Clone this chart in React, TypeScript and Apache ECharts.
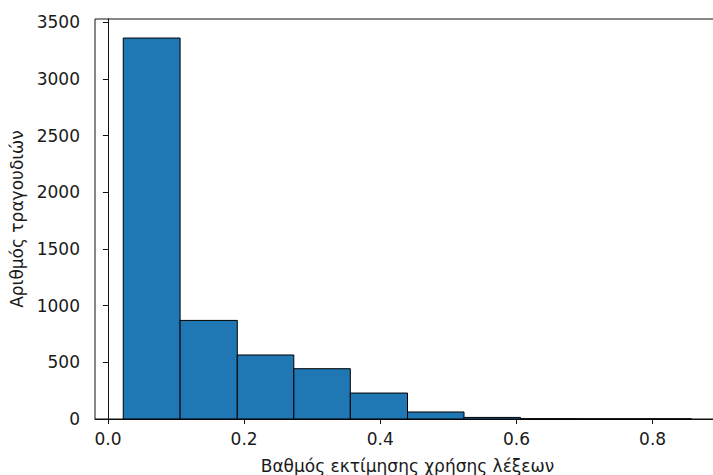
import React, { useEffect, useRef } from "react";
import * as echarts from "echarts";

// Histogram bin edges (score) and song counts per bin
const binEdges = [0.0225, 0.106, 0.19, 0.273, 0.356, 0.44, 0.523, 0.606, 0.69, 0.773, 0.857];
const binCounts = [3362, 870, 565, 444, 229, 62, 14, 2, 1, 1];

const xTicks = [0, 0.2, 0.4, 0.6, 0.8];
const yTicks = [0, 500, 1000, 1500, 2000, 2500, 3000, 3500];

const xTitle = "Βαθμός εκτίμησης χρήσης λέξεων";
const yTitle = "Αριθμός τραγουδιών";

const FONT = "DejaVu Sans";
const TEXT = "#1a1a1a";
const FS = 17;

export default function App() {
  const ref = useRef<HTMLDivElement>(null);

  useEffect(() => {
    if (!ref.current) return;
    const chart = echarts.init(ref.current, null, { renderer: "svg" });

    const data = binCounts.map((c, i) => [binEdges[i], binEdges[i + 1], c]);

    chart.setOption({
      animation: false,
      backgroundColor: "#ffffff",
      grid: {
        left: 95,
        top: 19,
        width: 625,
        height: 400,
        outerBoundsMode: "none",
        containLabel: false,
        show: true,
        borderColor: "#111",
        borderWidth: 1,
        backgroundColor: "transparent",
      },
      xAxis: {
        type: "value",
        min: -0.019,
        max: 0.899,
        name: xTitle,
        nameLocation: "middle",
        nameGap: 38,
        nameTextStyle: { fontFamily: FONT, fontSize: FS, color: TEXT },
        splitLine: { show: false },
        axisLine: { show: true, onZero: false, lineStyle: { color: "#111", width: 1 } },
        axisTick: { show: true, length: 5, customValues: xTicks, lineStyle: { color: "#111" } },
        axisLabel: {
          customValues: xTicks,
          margin: 11,
          fontFamily: FONT,
          fontSize: FS,
          color: TEXT,
          formatter: (v: number) => v.toFixed(1),
        },
      },
      yAxis: {
        type: "value",
        min: 0,
        max: 3530,
        name: yTitle,
        nameLocation: "middle",
        nameGap: 68,
        nameTextStyle: { fontFamily: FONT, fontSize: FS, color: TEXT },
        splitLine: { show: false },
        axisLine: { show: true, lineStyle: { color: "#111", width: 1 } },
        axisTick: { show: true, length: 5, customValues: yTicks, lineStyle: { color: "#111" } },
        axisLabel: {
          customValues: yTicks,
          margin: 15,
          fontFamily: FONT,
          fontSize: FS,
          color: TEXT,
          formatter: (v: number) => String(v),
        },
      },
      series: [
        {
          type: "custom",
          data,
          encode: { x: [0, 1], y: 2 },
          renderItem: (params: any, api: any) => {
            const x0 = api.value(0);
            const x1 = api.value(1);
            const c = api.value(2);
            const p0 = api.coord([x0, c]);
            const p1 = api.coord([x1, 0]);
            return {
              type: "rect",
              shape: { x: p0[0], y: p0[1], width: p1[0] - p0[0], height: p1[1] - p0[1] },
              style: { fill: "#1f77b4", stroke: "#000", lineWidth: 1 },
            };
          },
        },
      ],
    });

    return () => chart.dispose();
  }, []);

  return (
    <div
      ref={ref}
      style={{ position: "fixed", left: 0, top: 0, width: 713, height: 475 }}
    />
  );
}
